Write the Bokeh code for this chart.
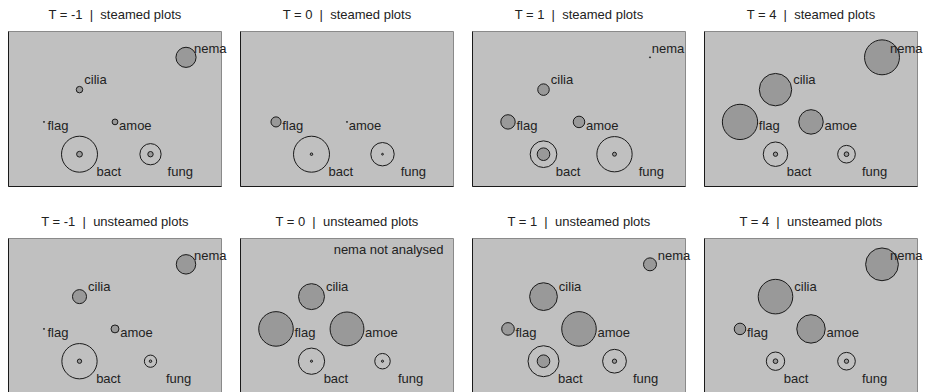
from bokeh.plotting import figure
from bokeh.layouts import row, column
from bokeh.models import Label, Range1d
from bokeh.embed import file_html
from bokeh.resources import INLINE

# ---- data -------------------------------------------------------------
times = ["-1", "0", "1", "4"]
treatments = ["steamed", "unsteamed"]
groups = ["nema", "cilia", "flag", "amoe", "bact", "fung"]
# network layout coordinates of each group
group_x = [5, 2, 1, 3, 2, 4]
group_y = [4, 3, 2, 2, 1, 1]

# relative abundance shown by the filled circles (None = not present / not analysed)
steamed_filled_tm1 = [0.56, 0.18, 0.03, 0.16, 0.16, 0.15]
steamed_filled_t0 = [None, None, 0.28, 0.03, 0.07, 0.05]
steamed_filled_t1 = [0.03, 0.32, 0.40, 0.32, 0.35, 0.11]
steamed_filled_t4 = [0.97, 0.90, 0.98, 0.68, 0.12, 0.13]
unsteamed_filled_tm1 = [0.54, 0.39, 0.03, 0.22, 0.12, 0.07]
unsteamed_filled_t0 = [None, 0.72, 0.96, 0.94, 0.06, 0.06]
unsteamed_filled_t1 = [0.36, 0.77, 0.35, 0.96, 0.35, 0.12]
unsteamed_filled_t4 = [0.91, 0.96, 0.32, 0.79, 0.13, 0.12]

# open circles (bact, fung only)
open_groups = ["bact", "fung"]
steamed_open_tm1 = [1.00, 0.59]
steamed_open_t0 = [1.00, 0.65]
steamed_open_t1 = [0.74, 0.98]
steamed_open_t4 = [0.68, 0.49]
unsteamed_open_tm1 = [0.98, 0.34]
unsteamed_open_t0 = [0.73, 0.43]
unsteamed_open_t1 = [0.86, 0.66]
unsteamed_open_t4 = [0.51, 0.49]

not_analysed_note = {("unsteamed", "0"): "nema not analysed"}

filled = {
    ("steamed", "-1"): steamed_filled_tm1, ("steamed", "0"): steamed_filled_t0,
    ("steamed", "1"): steamed_filled_t1, ("steamed", "4"): steamed_filled_t4,
    ("unsteamed", "-1"): unsteamed_filled_tm1, ("unsteamed", "0"): unsteamed_filled_t0,
    ("unsteamed", "1"): unsteamed_filled_t1, ("unsteamed", "4"): unsteamed_filled_t4,
}
opened = {
    ("steamed", "-1"): steamed_open_tm1, ("steamed", "0"): steamed_open_t0,
    ("steamed", "1"): steamed_open_t1, ("steamed", "4"): steamed_open_t4,
    ("unsteamed", "-1"): unsteamed_open_tm1, ("unsteamed", "0"): unsteamed_open_t0,
    ("unsteamed", "1"): unsteamed_open_t1, ("unsteamed", "4"): unsteamed_open_t4,
}

# ---- style / layout ---------------------------------------------------
MAX_R = 18.0          # px radius of a value of 1.0
FONT = "Liberation Sans"
BOX = "#c0c0c0"
CIRC = "#999999"
INK = "#1a1a1a"
TEXT = "#222222"
EDGE = "#8a8a8a"

XMAX, YMAX = 6.0, 4.8          # panel box extent in layout units
BOX_W, BOX_H = 213.0, 155.0    # panel box size in px
PX_X, PX_Y = BOX_W / XMAX, BOX_H / YMAX
CELL_W = 232
BOX_LEFT, BOX_TOP = 8.0, 31.0
ROW_H = [207, 185]


def label_dx(name, r):
    if name == "nema":
        return min(r + 1.2, 8.0)
    if name == "cilia":
        return r + 1.5
    if name == "flag":
        return max(r + 1.2, 3.5)
    if name == "amoe":
        return r + 1.2
    if name == "bact":
        return r - 1.0
    return max(r + 6.5, 15.5)


label_dy = {"nema": -8.7, "cilia": -10.0, "flag": 4.0, "amoe": 4.0,
            "bact": 17.7, "fung": 17.7}


def make_panel(treat, t, cell_h):
    x0 = -BOX_LEFT / PX_X
    x1 = (CELL_W - BOX_LEFT) / PX_X
    y1 = YMAX + BOX_TOP / PX_Y
    y0 = YMAX - (cell_h - BOX_TOP) / PX_Y
    p = figure(width=CELL_W, height=cell_h,
               x_range=Range1d(x0, x1), y_range=Range1d(y0, y1),
               output_backend="svg", toolbar_location=None,
               min_border=0, x_axis_type=None, y_axis_type=None,
               background_fill_color="white", border_fill_color="white",
               outline_line_color=None)
    p.grid.visible = False

    # panel box
    p.quad(left=[0], right=[XMAX], bottom=[0], top=[YMAX],
           fill_color=BOX, line_color=EDGE, line_width=1)
    p.segment(x0=[0, 0], y0=[0, 0], x1=[0, XMAX], y1=[YMAX, 0],
              line_color=INK, line_width=1)

    # title
    p.add_layout(Label(x=XMAX / 2, y=YMAX, y_offset=17.3,
                       text=f"T = {t}\u00a0 |\u00a0 {treat} plots",
                       text_align="center", text_baseline="middle",
                       text_font=FONT, text_font_size="13px",
                       text_font_style="normal", text_color=TEXT))

    key = (treat, t)
    fv = filled[key]
    ov = opened[key]
    # open circles
    ox = [group_x[groups.index(g)] for g in open_groups]
    oy = [group_y[groups.index(g)] for g in open_groups]
    p.scatter(ox, oy, size=[2 * v * MAX_R for v in ov], marker="circle",
              fill_color=None, line_color=INK, line_width=1)
    # filled circles
    fx, fy, fs = [], [], []
    for i, g in enumerate(groups):
        if fv[i] is None:
            continue
        fx.append(group_x[i]); fy.append(group_y[i]); fs.append(2 * fv[i] * MAX_R)
    p.scatter(fx, fy, size=fs, marker="circle",
              fill_color=CIRC, line_color=INK, line_width=1)
    # labels
    for i, g in enumerate(groups):
        if fv[i] is None:
            continue
        r = fv[i] * MAX_R
        if g in open_groups:
            r = max(r, ov[open_groups.index(g)] * MAX_R)
        p.add_layout(Label(x=group_x[i], y=group_y[i], text=g,
                           x_offset=label_dx(g, r), y_offset=-label_dy[g],
                           text_align="left", text_baseline="middle",
                           text_font=FONT, text_font_size="13px",
                           text_color=TEXT))
    if key in not_analysed_note:
        p.add_layout(Label(x=XMAX, y=YMAX, text=not_analysed_note[key],
                           x_offset=-10, y_offset=-11,
                           text_align="right", text_baseline="middle",
                           text_font=FONT, text_font_size="13px",
                           text_color=TEXT))
    return p


rows = []
for ti, treat in enumerate(treatments):
    panels = [make_panel(treat, t, ROW_H[ti]) for t in times]
    rows.append(row(*panels))
layout = column(*rows)

open("out.html", "w").write(file_html(layout, INLINE))
